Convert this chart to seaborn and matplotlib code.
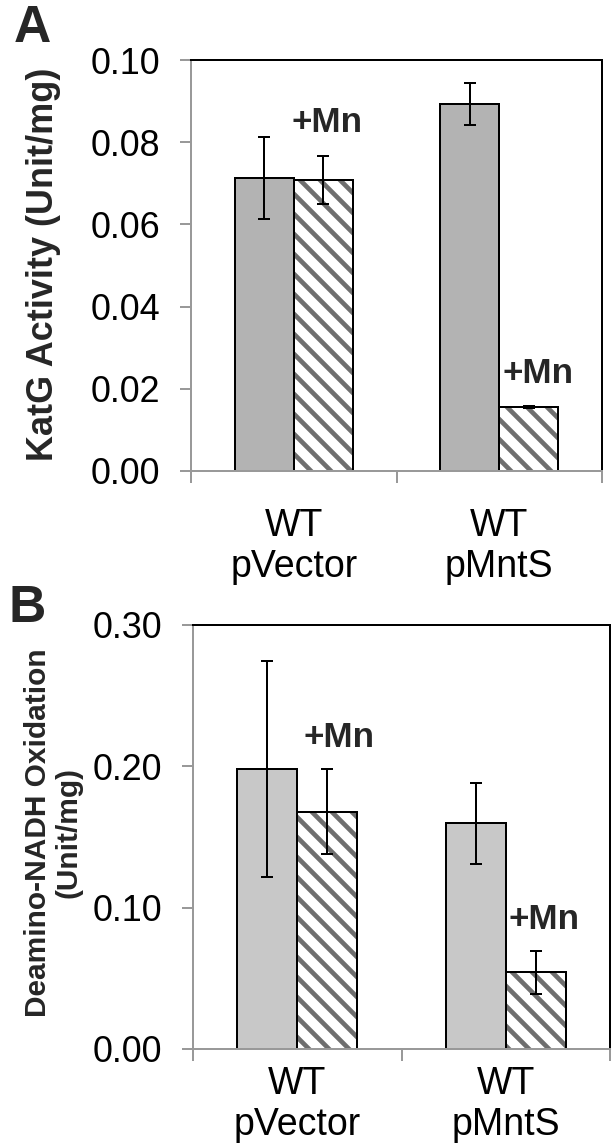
import numpy as np
import pandas as pd
import matplotlib
matplotlib.use("Agg")
import matplotlib.pyplot as plt
from matplotlib.patches import Rectangle
from matplotlib.ticker import FormatStrFormatter
import seaborn as sns

# ---------------- data ----------------
categories = ["WT\npVector", "WT\npMntS"]
conditions = ["ctrl", "+Mn"]

katg_ctrl = [0.0712, 0.0893]
katg_ctrl_err = [0.0100, 0.0050]
katg_mn = [0.0708, 0.0156]
katg_mn_err = [0.0058, 0.0003]

nadh_ctrl = [0.1982, 0.1596]
nadh_ctrl_err = [0.0764, 0.0284]
nadh_mn = [0.1680, 0.0543]
nadh_mn_err = [0.0300, 0.0151]

katg_ticks = [0.00, 0.02, 0.04, 0.06, 0.08, 0.10]
nadh_ticks = [0.00, 0.10, 0.20, 0.30]

# ---------------- style ----------------
sns.set_style("ticks")
plt.rcParams["font.family"] = ["Liberation Sans", "DejaVu Sans"]
plt.rcParams["hatch.linewidth"] = 2.8

W, H, DPI = 616, 1145, 120
fig = plt.figure(figsize=(W / DPI, H / DPI), dpi=DPI)

GRAY_AX = "#999999"
HATCH_GRAY = "#6e6e6e"


def panel(rect, ctrl, ctrl_err, mn, mn_err, ctrl_color, ticks, xpad):
    ax = fig.add_axes(rect)
    df = pd.DataFrame({
        "group": categories * 2,
        "condition": [conditions[0]] * len(categories) + [conditions[1]] * len(categories),
        "value": list(ctrl) + list(mn),
    })
    sns.barplot(data=df, x="group", y="value", hue="condition",
                order=categories, hue_order=conditions,
                palette={conditions[0]: ctrl_color, conditions[1]: "white"},
                width=0.574, errorbar=None, edgecolor="black", linewidth=1.2,
                saturation=1, legend=False, ax=ax)
    # hatched bars
    for bar in ax.containers[1]:
        bar.set_hatch("\\\\")
        bar.set_edgecolor(HATCH_GRAY)
        bar.set_linewidth(0)
        ax.add_patch(Rectangle((bar.get_x(), bar.get_y()), bar.get_width(), bar.get_height(),
                               fill=False, edgecolor="black", linewidth=1.2,
                               zorder=bar.get_zorder() + 0.1))
    # error bars
    for cont, errs in zip(ax.containers[:2], [ctrl_err, mn_err]):
        xs = [b.get_x() + b.get_width() / 2 for b in cont]
        ys = [b.get_height() for b in cont]
        ax.errorbar(xs, ys, yerr=errs, fmt="none", ecolor="black",
                    elinewidth=1.2, capsize=3.8, capthick=1.2, zorder=5)

    ax.set_xlim(-0.5, 1.5)
    ax.set_ylim(ticks[0], ticks[-1])
    ax.set_yticks(ticks)
    ax.yaxis.set_major_formatter(FormatStrFormatter("%.2f"))
    ax.set_xlabel("")
    ax.set_ylabel("")
    ax.set_xticks([0, 1])
    ax.set_xticklabels(categories)
    ax.set_xticks([-0.5, 0.5, 1.5], minor=True)

    for side in ["top", "right"]:
        ax.spines[side].set_color("black")
        ax.spines[side].set_linewidth(1.2)
    for side in ["left", "bottom"]:
        ax.spines[side].set_color(GRAY_AX)
        ax.spines[side].set_linewidth(1.2)

    ax.tick_params(axis="y", which="major", left=True, direction="out", length=6.6,
                   width=1.2, color=GRAY_AX, labelsize=21.5, pad=12, labelcolor="black")
    ax.tick_params(axis="x", which="major", bottom=True, length=0, labelsize=22.5,
                   pad=xpad, labelcolor="black")
    ax.tick_params(axis="x", which="minor", bottom=True, direction="out", length=7.2,
                   width=1.2, color=GRAY_AX)
    return ax


axA = panel([191 / W, 1 - 471 / H, 411 / W, 411 / H],
            katg_ctrl, katg_ctrl_err, katg_mn, katg_mn_err, "#b3b3b3", katg_ticks, 22)
axB = panel([193 / W, 1 - 1049 / H, 417 / W, 424 / H],
            nadh_ctrl, nadh_ctrl_err, nadh_mn, nadh_mn_err, "#c8c8c8", nadh_ticks, 10)

# +Mn annotations
txt_kw = dict(fontsize=21, fontweight="bold", ha="left", va="baseline", zorder=6)
axA.text(-0.01, 0.0825, "+Mn", **txt_kw)
axA.text(1.018, 0.0215, "+Mn", **txt_kw)
axB.text(0.028, 0.2134, "+Mn", **txt_kw)
axB.text(1.011, 0.0848, "+Mn", **txt_kw)

# axis titles
fig.text(44 / W, 1 - 264 / H, "KatG Activity (Unit/mg)", rotation=90,
         ha="center", va="center", fontsize=21.6, fontweight="bold")
fig.text(53 / W, 1 - 833 / H, "Deamino-NADH Oxidation\n(Unit/mg)", rotation=90,
         ha="center", va="center", multialignment="center", fontsize=17.9,
         fontweight="bold", linespacing=1.12)

# panel letters
fig.text(14 / W, 1 - 42 / H, "A", fontsize=31, fontweight="bold", ha="left", va="baseline")
fig.text(8 / W, 1 - 622 / H, "B", fontsize=31, fontweight="bold", ha="left", va="baseline")

fig.savefig("out.png", dpi=DPI, facecolor="white")
